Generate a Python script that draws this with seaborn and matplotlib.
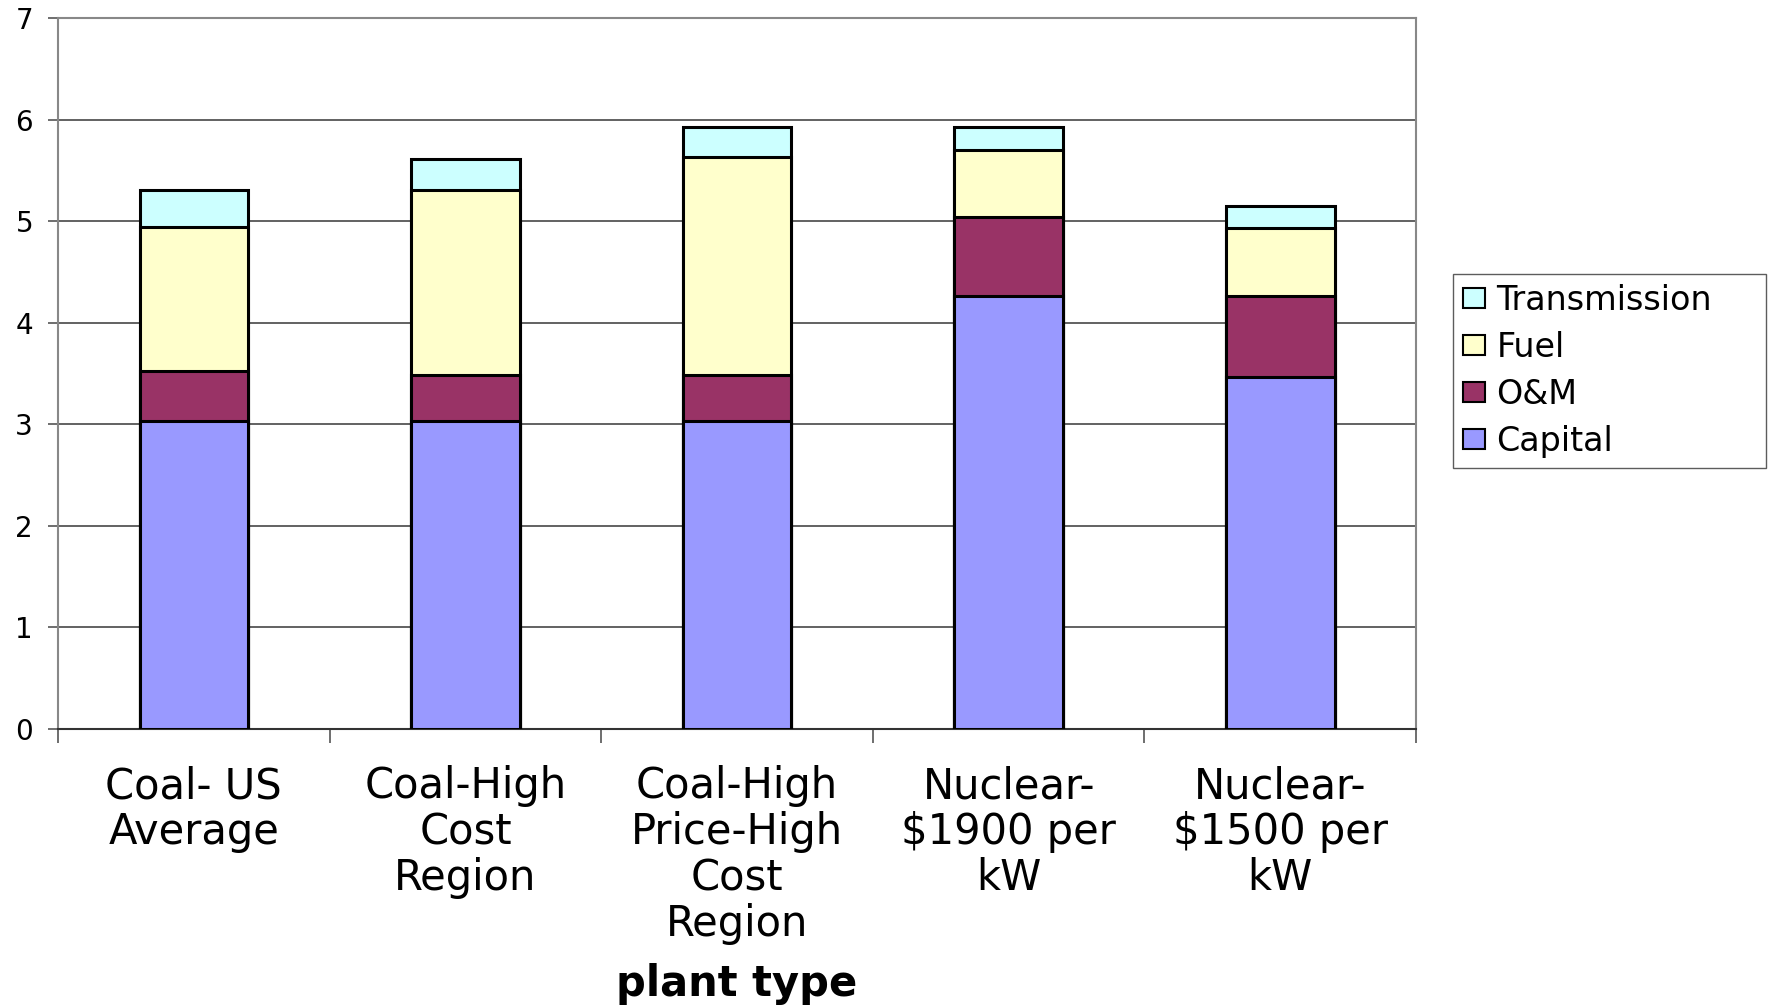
import numpy as np
import pandas as pd
import matplotlib
matplotlib.use("Agg")
import matplotlib.pyplot as plt
import seaborn as sns
from matplotlib.patches import Patch
from matplotlib.ticker import FixedLocator

# Levelized cost components by plant type
plant_types = [
    "Coal- US\nAverage",
    "Coal-High\nCost\nRegion",
    "Coal-High\nPrice-High\nCost\nRegion",
    "Nuclear-\n\\$1900 per\nkW",
    "Nuclear-\n\\$1500 per\nkW",
]
capital = [3.03, 3.03, 3.03, 4.26, 3.47]
om = [0.49, 0.46, 0.46, 0.78, 0.79]
fuel = [1.42, 1.82, 2.14, 0.66, 0.67]
transmission = [0.37, 0.30, 0.30, 0.23, 0.22]

components = ["Capital", "O&M", "Fuel", "Transmission"]
colors = {"Capital": "#9999FF", "O&M": "#993366",
          "Fuel": "#FFFFCC", "Transmission": "#CCFFFF"}
y_ticks = [0, 1, 2, 3, 4, 5, 6, 7]

sns.set_theme(style="white")
plt.rcParams["font.family"] = ["DejaVu Sans"]
plt.rcParams["text.color"] = "black"
plt.rcParams["xtick.color"] = "black"
plt.rcParams["ytick.color"] = "black"
plt.rcParams["axes.labelcolor"] = "black"

df = pd.DataFrame({"plant": plant_types, "Capital": capital, "O&M": om,
                   "Fuel": fuel, "Transmission": transmission})
stack = df[components].cumsum(axis=1)

fig = plt.figure(figsize=(17.69, 10.06), dpi=100)
ax = fig.add_axes([0.0328, 0.2753, 0.7677, 0.7068])

# draw cumulative totals from the top segment down so each layer overlays the next
for comp in reversed(components):
    sns.barplot(x=df["plant"], y=stack[comp], color=colors[comp], width=0.4,
                edgecolor="black", linewidth=2.2, saturation=1, ax=ax, zorder=3)

ax.set_ylim(0, 7)
ax.set_xlim(-0.5, len(plant_types) - 0.5)
ax.set_yticks(y_ticks)
ax.set_yticklabels([str(t) for t in y_ticks], fontsize=20)
ax.yaxis.grid(True, color="#555555", linewidth=1.3, zorder=0)
ax.xaxis.grid(False)

ax.set_xticks(range(len(plant_types)))
ax.set_xticklabels(plant_types, fontsize=30, linespacing=1.12)
ax.xaxis.set_minor_locator(FixedLocator(np.arange(-0.5, len(plant_types), 1.0)))
ax.tick_params(axis="x", which="major", length=0, pad=26)
ax.tick_params(axis="x", which="minor", length=10, width=1.2, color="#555555",
               direction="out", bottom=True)
ax.tick_params(axis="y", which="major", length=7, width=1.2, color="#555555",
               labelcolor="black", direction="out", left=True, pad=11)
ax.tick_params(axis="x", labelcolor="black")

for side in ["left", "right", "top"]:
    ax.spines[side].set_color("#888888")
    ax.spines[side].set_linewidth(1.5)
ax.spines["bottom"].set_color("#333333")
ax.spines["bottom"].set_linewidth(1.5)

ax.set_xlabel("plant type", fontsize=30, fontweight="bold", color="black")
ax.xaxis.set_label_coords(0.5, -0.358)
ax.xaxis.label.set_va("center")
ax.set_ylabel("")

handles = [Patch(facecolor=colors[c], edgecolor="black", linewidth=1.5, label=c)
           for c in reversed(components)]
leg = fig.legend(handles=handles, loc="upper left",
                 bbox_to_anchor=(0.8214, 0.7276, 0.1769, 0.0),
                 bbox_transform=fig.transFigure, mode="expand",
                 fontsize=24, frameon=True, fancybox=False,
                 handlelength=0.65, handleheight=0.55, handletextpad=0.35,
                 labelspacing=0.42, borderpad=0.3, borderaxespad=0)
leg.get_frame().set_edgecolor("#333333")
leg.get_frame().set_linewidth(1.0)
for t in leg.get_texts():
    t.set_color("black")

fig.savefig("out.png", dpi=100)
